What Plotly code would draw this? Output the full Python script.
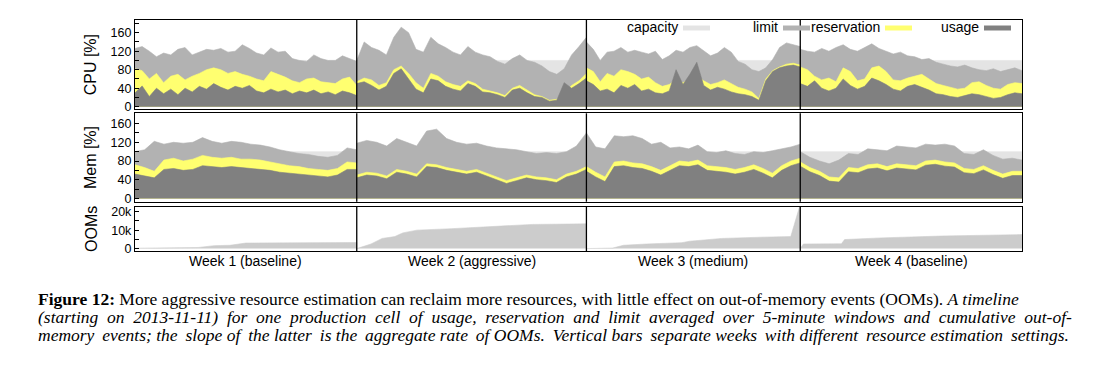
import numpy as np
import plotly.graph_objects as go

# ---------------- data ----------------
week_bounds = [0.0, 7.0, 14.25, 21.0, 28.0]          # days since 2013-11-11
week_labels = ["Week 1 (baseline)", "Week 2 (aggressive)", "Week 3 (medium)", "Week 4 (baseline)"]
capacity_level = 100                                  # [%]

# CPU [%] per week (32 samples / week)
cpu_limit_w1 = [126,130,120,108,116,112,124,128,112,118,124,122,126,118,120,134,126,116,112,127,118,120,104,100,98,112,104,100,100,110,104,98]
cpu_limit_w2 = [100,140,128,122,112,150,172,160,124,118,150,136,128,118,112,130,118,112,108,98,92,104,112,100,96,88,76,70,82,112,130,150]
cpu_limit_w3 = [140,124,100,118,120,128,118,122,118,114,120,102,110,122,118,128,132,120,110,116,128,118,98,92,80,76,84,102,128,138,134,130]
cpu_limit_w4 = [124,120,118,126,120,128,134,124,120,128,136,126,120,114,118,110,108,102,104,96,92,88,86,90,84,80,78,82,76,80,84,78]

cpu_res_w1 = [82,78,60,72,52,66,70,58,66,72,80,84,80,72,76,70,66,60,56,76,70,64,56,52,60,62,54,52,50,60,64,46]
cpu_res_w2 = [54,62,58,46,52,80,88,72,52,40,72,66,54,48,44,56,50,38,34,30,24,40,46,36,26,22,14,16,30,46,56,72]
cpu_res_w3 = [84,76,54,72,66,80,76,70,60,64,52,44,48,58,52,60,66,56,48,52,58,50,42,38,32,18,60,78,86,92,94,90]
cpu_res_w4 = [86,80,66,58,62,54,84,76,56,60,84,88,76,58,56,62,66,70,60,50,46,42,38,40,52,54,46,40,38,48,52,50]

cpu_use_w1 = [30,45,22,40,28,38,26,40,32,44,38,50,42,36,44,40,46,34,30,38,32,36,28,34,30,36,28,32,26,34,30,24]
cpu_use_w2 = [50,54,46,36,44,72,82,60,38,30,60,56,44,38,34,50,44,32,30,26,20,36,40,30,22,20,12,14,52,40,50,62]
cpu_use_w3 = [56,48,34,38,30,46,40,48,34,38,30,28,34,80,48,70,96,46,36,42,38,32,28,26,22,14,56,76,84,88,90,86]
cpu_use_w4 = [50,44,56,40,34,40,60,46,38,44,62,56,48,38,34,44,48,42,36,28,26,22,20,24,28,26,22,18,20,26,30,28]

# Memory [%] per week (24 samples / week)
mem_limit_w1 = [100,104,122,116,120,118,120,130,122,118,122,120,116,114,110,104,100,96,94,90,88,92,108,104]
mem_limit_w2 = [118,124,120,112,128,120,112,144,148,128,120,116,118,112,108,106,104,100,96,98,96,100,112,140]
mem_limit_w3 = [140,110,106,134,132,134,128,116,120,108,110,106,114,100,98,102,96,94,100,98,102,106,110,116]
mem_limit_w4 = [100,88,80,74,82,96,94,106,104,102,112,110,108,116,114,116,112,96,94,104,92,84,86,82]

mem_res_w1 = [72,66,58,82,86,80,84,92,88,86,88,84,84,82,78,74,70,68,64,62,60,64,78,76]
mem_res_w2 = [50,56,54,48,62,58,52,74,72,66,62,58,62,54,46,38,44,50,46,44,40,52,58,68]
mem_res_w3 = [68,56,46,78,80,76,74,68,60,70,80,78,82,70,68,66,62,66,72,64,54,70,80,86]
mem_res_w4 = [78,66,58,46,44,66,64,72,74,68,74,72,70,80,82,78,76,64,62,70,60,52,58,58]

mem_use_w1 = [52,48,44,62,64,60,62,70,68,66,68,66,64,62,60,56,54,52,50,48,46,50,62,62]
mem_use_w2 = [44,50,48,42,56,52,46,68,66,60,56,52,56,48,40,32,38,44,40,38,34,46,52,62]
mem_use_w3 = [58,46,36,68,70,66,64,58,50,60,70,68,72,60,58,56,52,56,62,54,44,60,70,76]
mem_use_w4 = [69,57,49,37,35,57,55,63,65,59,65,63,61,71,73,69,67,55,53,61,51,43,49,49]

# cumulative OOM events per week (sample day, count)
oom_days_w1 = [0.0,0.5,1.0,1.5,2.0,2.5,3.0,3.5,4.0,4.5,5.0,5.5,6.0,6.5,7.0]
oom_vals_w1 = [200,200,300,300,600,1600,1800,3000,3100,3200,3300,3300,3300,3300,3300]
oom_days_w2 = [7.0,7.45,7.8,8.2,8.45,8.9,10.0,11.45,12.55,14.25]
oom_vals_w2 = [0,2500,5500,6500,8500,10000,10800,12200,13100,13400]
oom_days_w3 = [14.25,15.08,15.42,16.15,17.26,17.51,18.52,19.78,20.7,21.0]
oom_vals_w3 = [0,300,1800,2500,3200,4000,5500,6200,6500,24000]
oom_days_w4 = [21.0,21.1,22.3,22.4,23.55,25.45,26.7,28.0]
oom_vals_w4 = [0,2500,2600,4900,5800,6800,7300,7600]

# ---------------- styling ----------------
COL_CAP = "#e4e4e4"
COL_LIM = "#b2b2b2"
COL_RES = "#ffff70"
COL_USE = "#808080"
COL_OOM = "#cccccc"
SANS = "Liberation Sans, Arial, Helvetica, sans-serif"
SERIF = "Liberation Serif, Times New Roman, serif"

# plot-area pixel geometry (for legend / caption placement)
W, H = 1096, 369
L, R, T, B = 135, 1022, 20, 251
def px(x):
    return (x - L) / (R - L)
def py(y):
    return (B - y) / (B - T)


def timeline(weeks):
    t, v = [], []
    for k, vals in enumerate(weeks):
        a, b = week_bounds[k], week_bounds[k + 1]
        t.extend(np.linspace(a, b, len(vals)).tolist())
        v.extend(vals)
    return t, v


def area(x, y, color, xa, ya):
    return go.Scatter(x=x, y=y, mode="lines", fill="tozeroy", fillcolor=color,
                      line=dict(color=color, width=0.6), xaxis=xa, yaxis=ya,
                      showlegend=False, hoverinfo="skip")


fig = go.Figure()

panels = [
    ("x", "y", [cpu_limit_w1, cpu_limit_w2, cpu_limit_w3, cpu_limit_w4],
     [cpu_res_w1, cpu_res_w2, cpu_res_w3, cpu_res_w4],
     [cpu_use_w1, cpu_use_w2, cpu_use_w3, cpu_use_w4]),
    ("x2", "y2", [mem_limit_w1, mem_limit_w2, mem_limit_w3, mem_limit_w4],
     [mem_res_w1, mem_res_w2, mem_res_w3, mem_res_w4],
     [mem_use_w1, mem_use_w2, mem_use_w3, mem_use_w4]),
]
for xa, ya, lim, res, use in panels:
    fig.add_trace(area([week_bounds[0], week_bounds[-1]], [capacity_level, capacity_level], COL_CAP, xa, ya))
    for series, col in ((lim, COL_LIM), (res, COL_RES), (use, COL_USE)):
        t, v = timeline(series)
        fig.add_trace(area(t, v, col, xa, ya))

oom_t = oom_days_w1 + oom_days_w2 + oom_days_w3 + oom_days_w4
oom_v = oom_vals_w1 + oom_vals_w2 + oom_vals_w3 + oom_vals_w4
fig.add_trace(area(oom_t, oom_v, COL_OOM, "x3", "y3"))

axis_common = dict(showline=True, mirror=True, linecolor="black", linewidth=1.3,
                   showgrid=False, zeroline=False)
xcommon = dict(axis_common, range=[week_bounds[0], week_bounds[-1]], ticks="", showticklabels=False)
ytick_font = dict(family=SANS, size=12.5, color="black")
ytitle_font = dict(family=SANS, size=16, color="black")
minor_pct = dict(dtick=20, tick0=0, ticks="inside", ticklen=4, tickcolor="black")

fig.update_layout(
    width=W, height=H,
    margin=dict(l=L, r=W - R, t=T, b=H - B),
    paper_bgcolor="white", plot_bgcolor="white",
    showlegend=False,
    xaxis=dict(xcommon, anchor="y"),
    xaxis2=dict(xcommon, anchor="y2", matches="x"),
    xaxis3=dict(xcommon, anchor="y3", matches="x"),
    yaxis=dict(axis_common, domain=[py(109.3), 1.0], range=[-5.6, 187.5],
               tickvals=[0, 40, 80, 120, 160], ticks="inside", ticklen=4, tickcolor="black",
               minor=minor_pct, tickfont=ytick_font,
               title=dict(text="CPU [%]", font=ytitle_font, standoff=9)),
    yaxis2=dict(axis_common, domain=[py(201.7), py(113.3)], range=[-7, 182],
                tickvals=[0, 40, 80, 120, 160], ticks="inside", ticklen=4, tickcolor="black",
                minor=minor_pct, tickfont=ytick_font,
                title=dict(text="Mem [%]", font=ytitle_font, standoff=9)),
    yaxis3=dict(axis_common, domain=[0.0, py(206.7)], range=[-1300, 22700],
                tickvals=[0, 10000, 20000], ticktext=["0", "10k", "20k"],
                ticks="inside", ticklen=4, tickcolor="black",
                minor=dict(dtick=5000, tick0=0, ticks="inside", ticklen=4, tickcolor="black"),
                tickfont=ytick_font, title=dict(text="OOMs", font=ytitle_font, standoff=9)),
)

# week separators in every panel
shapes = []
for xref, yref in (("x", "y domain"), ("x2", "y2 domain"), ("x3", "y3 domain")):
    for b in week_bounds[1:-1]:
        shapes.append(dict(type="line", xref=xref, yref=yref, x0=b, x1=b, y0=0, y1=1,
                           line=dict(color="black", width=1.3)))

annotations = []
# week labels under the OOM panel
for i, lab in enumerate(week_labels):
    annotations.append(dict(text=lab, xref="x3", yref="paper",
                            x=(week_bounds[i] + week_bounds[i + 1]) / 2, y=py(261),
                            xanchor="center", yanchor="middle", showarrow=False,
                            font=dict(family=SANS, size=14, color="black")))

# legend (text left of swatch, as in the reference)
legend_items = [("capacity", COL_CAP, 683), ("limit", COL_LIM, 783),
                ("reservation", COL_RES, 885), ("usage", COL_USE, 984)]
for name, col, sx in legend_items:
    shapes.append(dict(type="line", xref="paper", yref="paper", x0=px(sx), x1=px(sx + 27),
                       y0=py(28), y1=py(28), line=dict(color=col, width=5)))
    annotations.append(dict(text=name, xref="paper", yref="paper", x=px(sx - 3), y=py(27.5),
                            xanchor="right", yanchor="middle", showarrow=False,
                            font=dict(family=SANS, size=14, color="black")))

# caption (justified by widening the inter-word gaps of the shorter lines)
NBSP, THIN = "\u00a0", "\u2009"
cap2_words = ("(starting on 2013-11-11) for one production cell of usage, reservation and limit "
              "averaged over 5-minute windows and cumulative out-of-").split(" ")
cap3_words = ("memory events; the slope of the latter is the aggregate rate of OOMs. Vertical bars "
              "separate weeks with different resource estimation settings.").split(" ")
cap2 = (" " + NBSP).join(cap2_words)
cap3 = ""
for k, wd in enumerate(cap3_words):
    cap3 += wd if k == 0 else ((" " + THIN) if k % 2 else " ") + wd
caption = [
    "<b>Figure 12:</b> More aggressive resource estimation can reclaim more resources, with little effect on out-of-memory events (OOMs). <i>A timeline</i>",
    "<i>" + cap2 + "</i>",
    "<i>" + cap3 + "</i>",
]
caption_y = [299, 317, 334.5]
for line, yy in zip(caption, caption_y):
    annotations.append(dict(text=line, xref="paper", yref="paper", x=px(36), y=py(yy),
                            xanchor="left", yanchor="middle", showarrow=False, align="left",
                            font=dict(family=SERIF, size=17.5, color="black")))

fig.update_layout(shapes=shapes, annotations=annotations)
fig.write_html("out.html", config={"displayModeBar": False},
               post_script="document.body.style.margin='0px';document.body.style.padding='0px';")
